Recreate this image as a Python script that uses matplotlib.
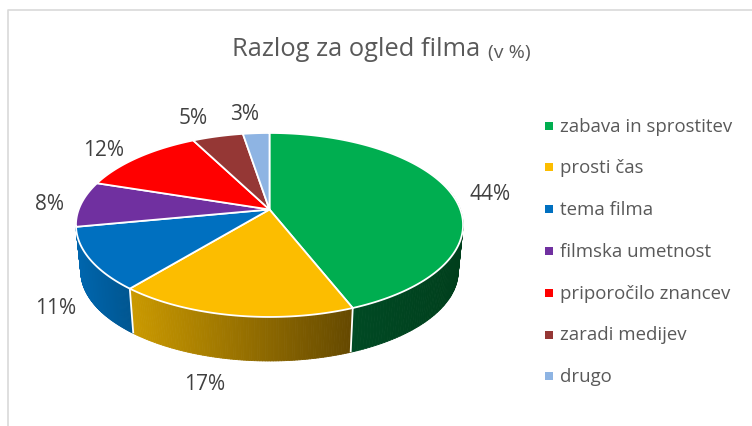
import numpy as np
import matplotlib.pyplot as plt
from matplotlib.collections import PolyCollection
from matplotlib.colors import to_rgb
from matplotlib.patches import Polygon

plt.switch_backend('Agg')
plt.rcParams['font.family'] = ['Open Sans', 'DejaVu Sans']

categories = ['zabava in sprostitev', 'prosti čas', 'tema filma', 'filmska umetnost',
              'priporočilo znancev', 'zaradi medijev', 'drugo']
values = [44, 17, 11, 8, 12.4, 5, 2.6]
colors = ['#00ae50', '#fcbd00', '#0070c0', '#7030a0', '#ff0000', '#953735', '#8eb4e3']

TEXT = '#595959'

# perspective pie, all in pixels
CX, CY = 269.5, 209.5
RX, RY = 190.8, 89.4
PERSP = 0.168
DEPTH_SCALE = 0.975
DEPTH_Y = 256.2

side_colors = {0: ('#004a24', '#003f1c'), 1: ('#cb9a00', '#654900'), 2: ('#0066ae', '#00558f')}


def rim(theta):
    w = 1 / (1 + PERSP * np.cos(theta))
    return CX + RX * np.sin(theta) * w, CY - RY * np.cos(theta) * w


def rim_low(theta):
    x, y = rim(theta)
    return CX + (x - CX) * DEPTH_SCALE, DEPTH_Y + (y - CY) * DEPTH_SCALE


def draw_side(ax, t0, t1, left, right):
    ts = np.linspace(t0, t1, 90)
    xt, yt = rim(ts)
    xb, yb = rim_low(ts)
    lo, hi = min(xt.min(), xb.min()), max(xt.max(), xb.max())
    c0, c1 = np.array(to_rgb(left)), np.array(to_rgb(right))
    polys, cols = [], []
    for i in range(len(ts) - 1):
        polys.append([(xt[i], yt[i]), (xt[i + 1], yt[i + 1]), (xb[i + 1], yb[i + 1]), (xb[i], yb[i])])
        f = ((xt[i] + xt[i + 1]) / 2 - lo) / (hi - lo)
        cols.append(c0 + (c1 - c0) * f)
    ax.add_collection(PolyCollection(polys, facecolors=cols, edgecolors=cols, linewidths=0.6, zorder=2))


fig = plt.figure(figsize=(7.52, 4.26), dpi=100, facecolor='white')
ax = fig.add_axes([0, 0, 1, 1])
ax.set_xlim(0, 752)
ax.set_ylim(426, 0)
ax.axis('off')

# chart frame, only left and top are in the crop
ax.plot([7.5, 7.5, 752], [426, 9.5, 9.5], color='#d9d9d9', lw=1.2, zorder=1)

edges = np.cumsum([0] + values) / sum(values) * 2 * np.pi

# sides of the front slices
for i, (left, right) in side_colors.items():
    t0, t1 = edges[i], edges[i + 1]
    if i == 0:
        t0 = np.radians(75)
    draw_side(ax, t1, t0, left, right)

# white seams between the front slices
for t in edges[1:3]:
    xt, yt = rim(t)
    xb, yb = rim_low(t)
    ax.plot([xt, xb], [yt, yb], color='white', lw=1.3, zorder=3, solid_capstyle='butt')

# top faces
for i, c in enumerate(colors):
    ts = np.linspace(edges[i], edges[i + 1], 120)
    x, y = rim(ts)
    pts = np.column_stack([np.r_[CX, x], np.r_[CY, y]])
    ax.add_patch(Polygon(pts, closed=True, facecolor=c, edgecolor='white', lw=1.3, joinstyle='round', zorder=4))

# data labels
label_xy = [(490, 194), (205, 385), (56, 309), (50, 204), (104, 151), (193, 118), (245, 115)]
for v, (x, y) in zip(values, label_xy):
    ax.text(x, y, '{:.0f}%'.format(v), ha='center', va='center', fontsize=15, color='#404040', zorder=5)

# title
ax.text(232, 50, 'Razlog za ogled filma', ha='left', va='center', fontsize=18.4, color=TEXT)
ax.text(488, 53, '(v %)', ha='left', va='center', fontsize=14, color=TEXT)

# legend
for i, (name, c) in enumerate(zip(categories, colors)):
    y = 125.5 + i * 41.8
    ax.scatter([549], [y], marker='s', s=26, color=c, linewidths=0, zorder=5)
    ax.text(560, y + 1, name, ha='left', va='center', fontsize=13.4, color=TEXT)

fig.savefig('out.png', dpi=100)
plt.close(fig)
